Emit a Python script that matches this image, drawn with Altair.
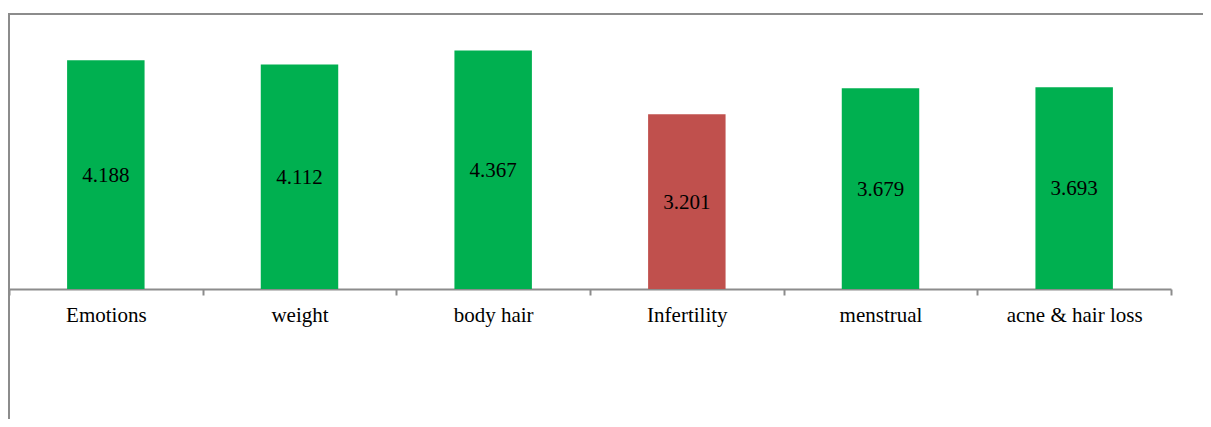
import altair as alt
import pandas as pd

categories = ["Emotions", "weight", "body hair", "Infertility", "menstrual", "acne & hair loss"]
values = [4.188, 4.112, 4.367, 3.201, 3.679, 3.693]
highlight = "Infertility"

df = pd.DataFrame({"category": categories, "value": values})

GREEN = "#00B050"
RED = "#C0504D"
BORDER = "#8C8C8C"
FONT = "Liberation Serif"

x_enc = alt.X(
    "category:N",
    sort=categories,
    scale=alt.Scale(paddingInner=0, paddingOuter=0),
    axis=alt.Axis(
        title=None,
        labelAngle=0,
        labelFont=FONT,
        labelFontSize=21,
        labelColor="#000000",
        labelPadding=9,
        domainColor=BORDER,
        domainWidth=2,
        tickColor=BORDER,
        tickWidth=2,
        tickSize=6,
        tickBand="extent",
        grid=False,
    ),
)
y_scale = alt.Scale(domain=[0, 5])

bars = alt.Chart(df).mark_bar(width=alt.RelativeBandSize(0.4)).encode(
    x=x_enc,
    y=alt.Y("value:Q", scale=y_scale, axis=None),
    color=alt.condition(alt.datum.category == highlight, alt.value(RED), alt.value(GREEN)),
)

labels = alt.Chart(df).transform_calculate(
    mid="datum.value / 2",
    txt="format(datum.value, '.3f')",
).mark_text(font=FONT, fontSize=21, color="#000000", baseline="middle", dy=1).encode(
    x=alt.X("category:N", sort=categories),
    y=alt.Y("mid:Q", scale=y_scale, axis=None),
    text="txt:N",
)

left_border = alt.Chart(df).mark_rule(color=BORDER, strokeWidth=2).encode(
    x=alt.value(0), y=alt.value(-2), y2=alt.value(410)
)
top_border = alt.Chart(df).mark_rule(color=BORDER, strokeWidth=2).encode(
    x=alt.value(-1), x2=alt.value(1194), y=alt.value(-2)
)

chart = alt.layer(bars, labels, left_border, top_border).properties(
    width=1162,
    height=273,
    background="white",
    padding={"left": 1, "top": 8, "right": 32, "bottom": 130},
    autosize=alt.AutoSizeParams(type="none"),
).configure_view(stroke=None)

chart.save("out.html", embed_options={"renderer": "svg", "actions": False})
